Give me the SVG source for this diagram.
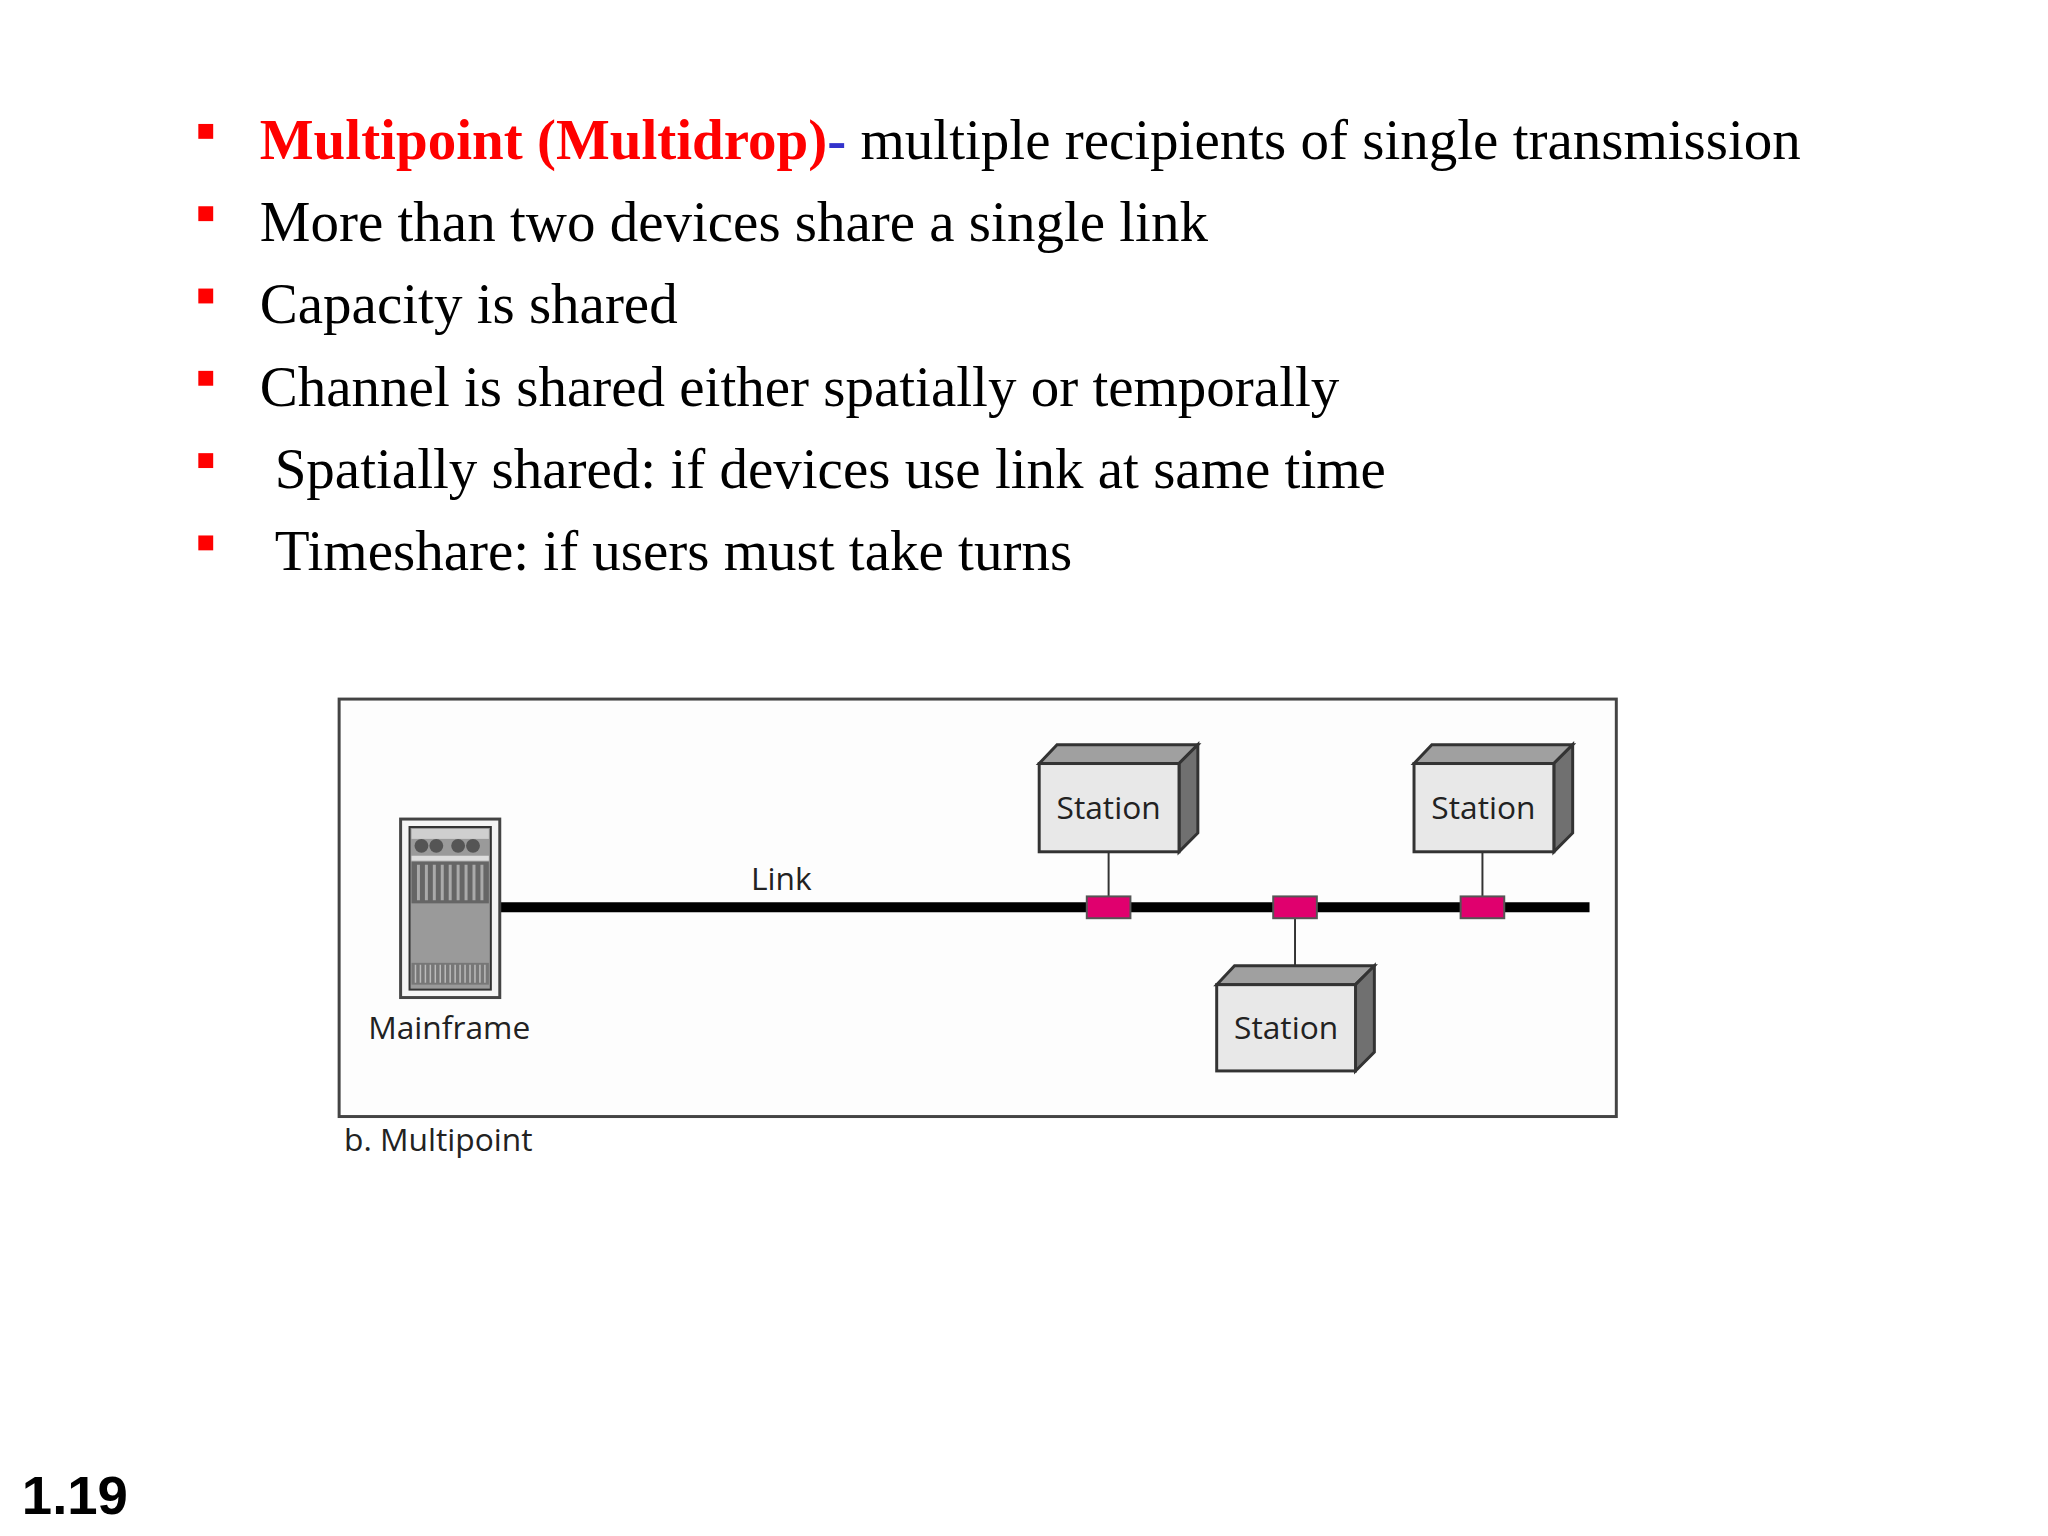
<svg xmlns="http://www.w3.org/2000/svg" width="2048" height="1536" viewBox="0 0 2048 1536">
<style>
.b{font-family:"Liberation Serif","Times New Roman",serif;font-size:57.5px;fill:#000}
.sq{fill:#ff0000}
.lbl{font-family:"Open Sans","DejaVu Sans",sans-serif;font-size:32px;fill:#222}
.st{fill:#e8e8e8;stroke:#333;stroke-width:3}
.top{fill:#a0a0a0;stroke:#333;stroke-width:3}
.side{fill:#707070;stroke:#333;stroke-width:3}
.tap{fill:#e0006e;stroke:#555;stroke-width:2}
</style>
<rect width="2048" height="1536" fill="#fff"/>
<g transform="scale(0.9916)">
<g id="bullets">
<rect class="sq" x="200" y="125" width="15" height="15"/>
<rect class="sq" x="200" y="208" width="15" height="15"/>
<rect class="sq" x="200" y="291" width="15" height="15"/>
<rect class="sq" x="200" y="374" width="15" height="15"/>
<rect class="sq" x="200" y="457" width="15" height="15"/>
<rect class="sq" x="200" y="540" width="15" height="15"/>
<text class="b" x="262" y="160"><tspan fill="#ff0000" font-weight="bold">Multipoint (Multidrop)</tspan><tspan fill="#3333cc" font-weight="bold">-</tspan> multiple recipients of single transmission</text>
<text class="b" x="262" y="243">More than two devices share a single link</text>
<text class="b" x="262" y="326">Capacity is shared</text>
<text class="b" x="262" y="409">Channel is shared either spatially or temporally</text>
<text class="b" x="277" y="492">Spatially shared: if devices use link at same time</text>
<text class="b" x="277" y="575">Timeshare: if users must take turns</text>
</g>
<rect x="342" y="705" width="1288" height="421" fill="#fdfdfd" stroke="#444" stroke-width="3"/>
<g id="connectors">
<line x1="504" y1="915" x2="1603" y2="915" stroke="#000" stroke-width="10"/>
<line x1="1118" y1="859" x2="1118" y2="915" stroke="#333" stroke-width="2"/>
<line x1="1495" y1="859" x2="1495" y2="915" stroke="#333" stroke-width="2"/>
<line x1="1306" y1="915" x2="1306" y2="982" stroke="#333" stroke-width="2"/>
<rect class="tap" x="1096" y="904" width="44" height="22"/>
<rect class="tap" x="1284" y="904" width="44" height="22"/>
<rect class="tap" x="1473" y="904" width="44" height="22"/>
<text class="lbl" x="788" y="898" text-anchor="middle">Link</text>
</g>
<g id="mainframe">
<rect x="404" y="826" width="100" height="180" fill="#f4f4f4" stroke="#444" stroke-width="3"/>
<rect x="413" y="834" width="82" height="164" fill="#9a9a9a" stroke="#333" stroke-width="2"/>
<rect x="415" y="836" width="78" height="10" fill="#cfcfcf"/>
<circle cx="425" cy="853" r="7" fill="#555"/><circle cx="440" cy="853" r="7" fill="#555"/>
<circle cx="462" cy="853" r="7" fill="#555"/><circle cx="477" cy="853" r="7" fill="#555"/>
<rect x="415" y="863" width="78" height="5" fill="#ddd"/>
<rect x="415" y="869" width="78" height="42" fill="#666"/>
<path d="M422 872V908M430 872V908M438 872V908M446 872V908M454 872V908M462 872V908M470 872V908M478 872V908M486 872V908" stroke="#aaa" stroke-width="3"/>
<rect x="415" y="971" width="78" height="22" fill="#777"/>
<path d="M419 973V991M424 973V991M429 973V991M434 973V991M439 973V991M444 973V991M449 973V991M454 973V991M459 973V991M464 973V991M469 973V991M474 973V991M479 973V991M484 973V991M489 973V991" stroke="#bbb" stroke-width="1.5"/>
<text class="lbl" x="453" y="1048" text-anchor="middle">Mainframe</text>
</g>
<g id="station1">
<polygon class="top" points="1048,770 1066,751 1208,751 1189,770"/>
<polygon class="side" points="1189,770 1208,751 1208,840 1189,859"/>
<rect class="st" x="1048" y="770" width="141" height="89"/>
<text class="lbl" x="1118" y="826" text-anchor="middle">Station</text>
</g>
<g id="station2">
<polygon class="top" points="1426,770 1444,751 1586,751 1567,770"/>
<polygon class="side" points="1567,770 1586,751 1586,840 1567,859"/>
<rect class="st" x="1426" y="770" width="141" height="89"/>
<text class="lbl" x="1496" y="826" text-anchor="middle">Station</text>
</g>
<g id="station3">
<polygon class="top" points="1227,993 1245,974 1386,974 1367,993"/>
<polygon class="side" points="1367,993 1386,974 1386,1061 1367,1080"/>
<rect class="st" x="1227" y="993" width="140" height="87"/>
<text class="lbl" x="1297" y="1048" text-anchor="middle">Station</text>
</g>
<text class="lbl" x="347" y="1161" font-size="31">b. Multipoint</text>
<text x="22" y="1527" font-family="Liberation Sans,Arial,sans-serif" font-weight="bold" font-size="55">1.19</text>
</g>
</svg>
